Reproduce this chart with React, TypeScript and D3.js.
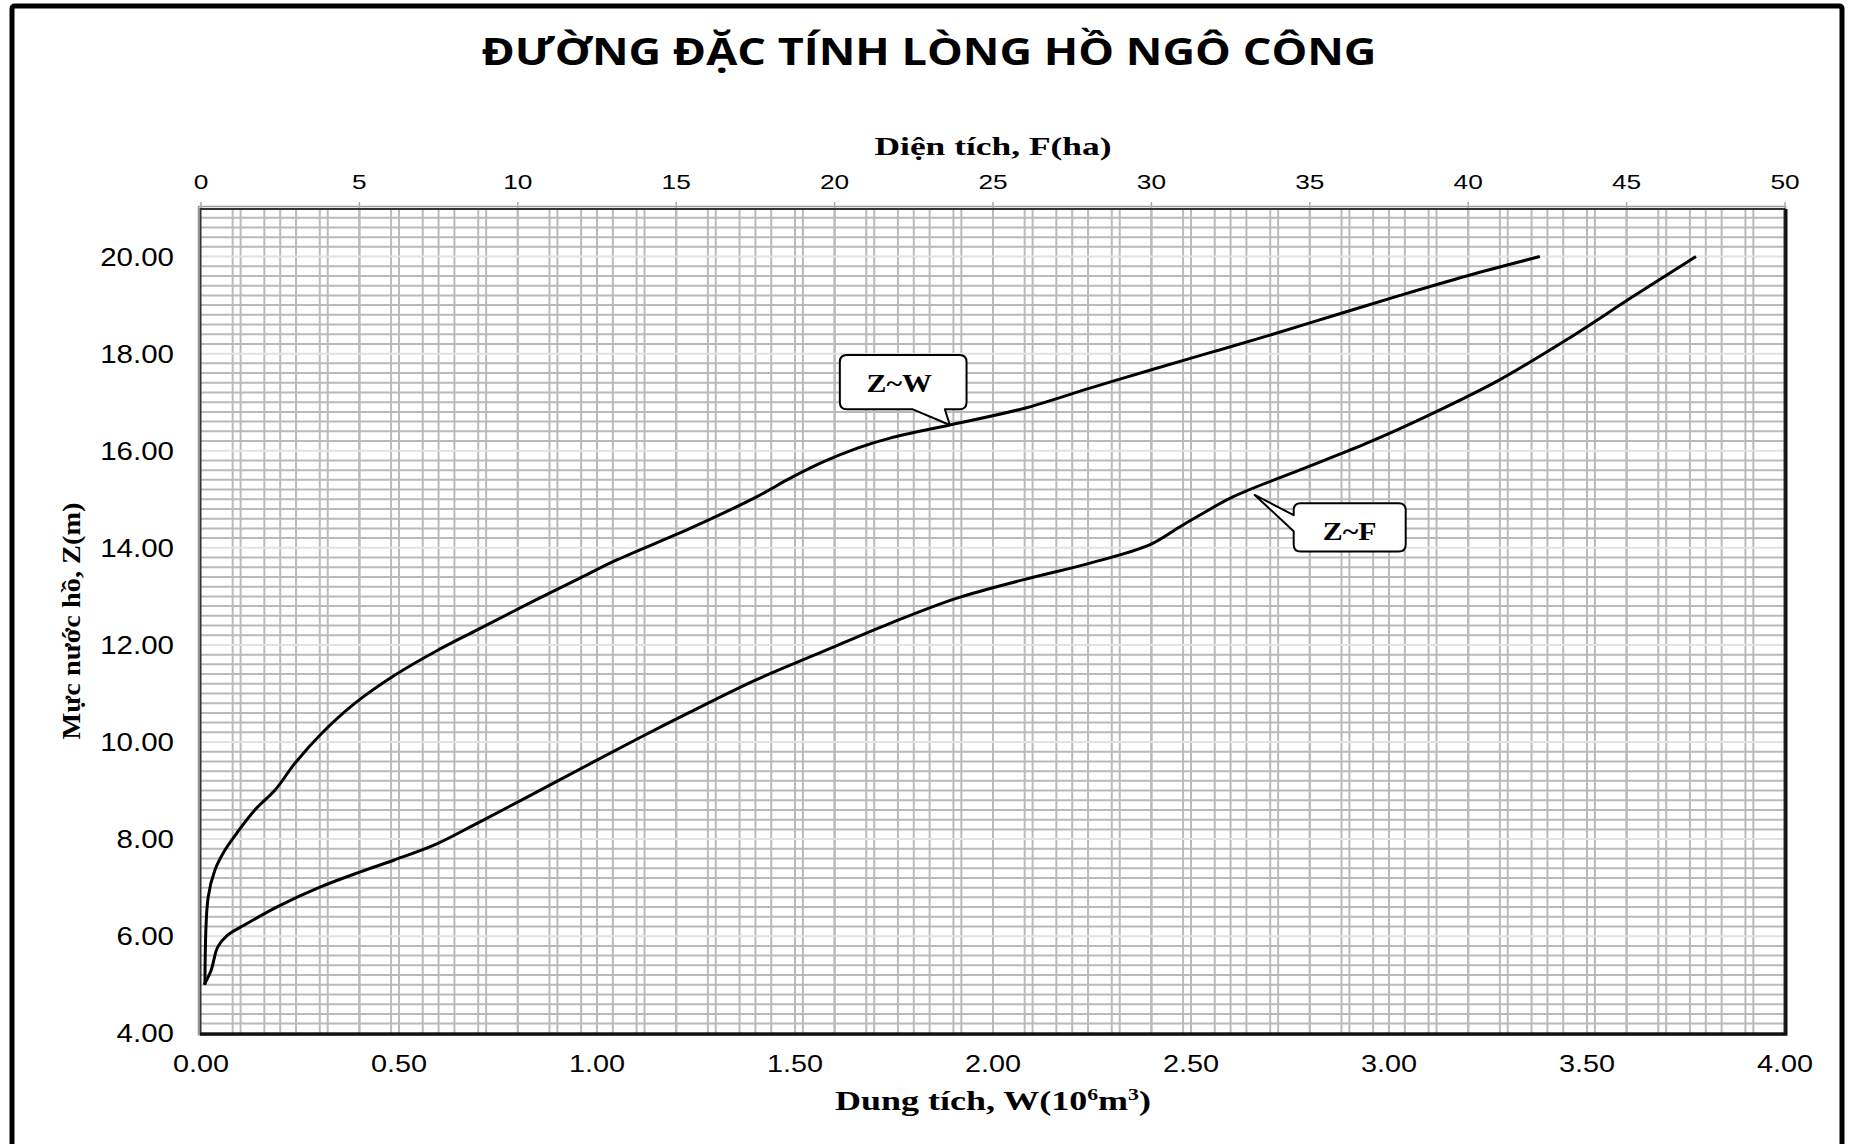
import React from "react";
import * as d3 from "d3";

// ---- data ----
// Z~W curve (capacity, 10^6 m3) vs water level Z (m)
const zwW = [0.01, 0.018, 0.035, 0.061, 0.09, 0.136, 0.187, 0.237, 0.305, 0.389, 0.49, 0.591, 0.70, 0.827, 0.953, 1.05, 1.235, 1.403, 1.487, 1.571, 1.656, 1.74, 1.891, 2.077, 2.245, 2.413, 2.548, 2.691, 2.859, 3.028, 3.196, 3.381];
const zwZ = [5.0, 6.8, 7.36, 7.78, 8.12, 8.6, 9.01, 9.56, 10.18, 10.8, 11.38, 11.86, 12.32, 12.85, 13.36, 13.75, 14.4, 15.05, 15.43, 15.77, 16.05, 16.26, 16.53, 16.87, 17.29, 17.70, 18.02, 18.36, 18.78, 19.2, 19.6, 20.0];
// Z~F curve (area, ha) vs water level Z (m)
const zfF = [0.1, 0.32, 0.53, 0.84, 1.37, 2.42, 3.79, 5.05, 6.1, 7.37, 8.73, 10.31, 12.42, 14.0, 15.42, 17.52, 19.62, 21.73, 23.84, 25.94, 28.04, 29.94, 30.89, 31.52, 32.57, 34.67, 36.78, 38.88, 40.99, 43.09, 45.19, 47.19];
const zfZ = [5.0, 5.3, 5.78, 6.02, 6.23, 6.61, 7.02, 7.33, 7.57, 7.88, 8.33, 8.87, 9.6, 10.14, 10.61, 11.28, 11.86, 12.44, 12.96, 13.34, 13.68, 14.06, 14.43, 14.67, 15.05, 15.6, 16.15, 16.77, 17.46, 18.28, 19.17, 20.0];

const yTicks = [4, 6, 8, 10, 12, 14, 16, 18, 20];
const wTicks = [0, 0.5, 1, 1.5, 2, 2.5, 3, 3.5, 4];
const fTicks = [0, 5, 10, 15, 20, 25, 30, 35, 40, 45, 50];

const title = "ĐƯỜNG ĐẶC TÍNH LÒNG HỒ NGÔ CÔNG";
const topTitle = "Diện tích, F(ha)";
const yTitle = "Mực nước hồ, Z(m)";

const labelZW = { text: "Z~W", w: 1.891, z: 16.53 };
const labelZF = { text: "Z~F", f: 33.26, z: 15.09 };

const W = 1854, H = 1144;
const L = 201, R = 1785, T = 208, B = 1033.3;

const xW = d3.scaleLinear().domain([0, 4]).range([L, R]);
const xF = d3.scaleLinear().domain([0, 50]).range([L, R]);
const y = d3.scaleLinear().domain([4, 21]).range([B, T]);

const SANS = "Arial, 'Liberation Sans', sans-serif";
const SERIF = "'Times New Roman', 'Liberation Serif', serif";

function SText({ x, y, sx = 1.2, anchor = "middle", size, family, weight = "normal", children }: any) {
  return (
    <g transform={`translate(${x},${y}) scale(${sx},1)`}>
      <text x={0} y={0} textAnchor={anchor} fontSize={size} fontFamily={family} fontWeight={weight} fill="#000">
        {children}
      </text>
    </g>
  );
}

export default function App() {
  const lineZW = d3.line<number>()
    .x((_, i) => xW(zwW[i]))
    .y((_, i) => y(zwZ[i]))
    .curve(d3.curveCatmullRom.alpha(0.5));
  const lineZF = d3.line<number>()
    .x((_, i) => xF(zfF[i]))
    .y((_, i) => y(zfZ[i]))
    .curve(d3.curveCatmullRom.alpha(0.5));

  const hMinor = d3.range(4.2, 20.95, 0.2).map((v) => +v.toFixed(1)).filter((v) => Math.abs(v / 2 - Math.round(v / 2)) > 1e-6);
  const hMajor = yTicks.filter((v) => v > 4);
  const vF = d3.range(1, 50, 1);
  const vW = d3.range(1, 40, 1).map((v) => v / 10);

  // callout Z~W
  const tw = { x: xW(labelZW.w), y: y(labelZW.z) };
  const r = 7;
  const a0 = tw.x - 110, a1 = tw.x + 16.7, b0 = tw.y - 70, b1 = tw.y - 15.7;
  const pathZW = `M${a0 + r},${b0} H${a1 - r} Q${a1},${b0} ${a1},${b0 + r} V${b1 - r} Q${a1},${b1} ${a1 - r},${b1} H${tw.x - 5} L${tw.x},${tw.y} L${tw.x - 37},${b1} H${a0 + r} Q${a0},${b1} ${a0},${b1 - r} V${b0 + r} Q${a0},${b0} ${a0 + r},${b0} Z`;
  // callout Z~F
  const tf = { x: xF(labelZF.f), y: y(labelZF.z) };
  const c0 = tf.x + 39, c1 = tf.x + 151, d0 = tf.y + 8.3, d1 = tf.y + 56.7;
  const pathZF = `M${c0 + r},${d0} H${c1 - r} Q${c1},${d0} ${c1},${d0 + r} V${d1 - r} Q${c1},${d1} ${c1 - r},${d1} H${c0 + r} Q${c0},${d1} ${c0},${d1 - r} V${d0 + 28} L${tf.x},${tf.y} L${c0},${d0 + 12} V${d0 + r} Q${c0},${d0} ${c0 + r},${d0} Z`;

  return (
    <svg width={W} height={H} style={{ position: "absolute", left: 0, top: 0, background: "#fff" }}>
      <rect x={0} y={0} width={W} height={H} fill="#fff" />
      {/* outer frame */}
      <path d={`M12,${H} V9 Q12,6 15,6 H1839 Q1842,6 1842,9 V${H}`} fill="none" stroke="#000" strokeWidth={5} />

      {/* title */}
      <text x={929} y={65} textAnchor="middle" fontSize={38} fontWeight="bold" fontFamily="'Open Sans', 'Noto Sans', sans-serif" textLength={895} lengthAdjust="spacingAndGlyphs">{title}</text>

      {/* gridlines */}
      <g>
        {hMinor.map((v) => (
          <line key={"h" + v} x1={L} x2={R} y1={y(v)} y2={y(v)} stroke="#bababa" strokeWidth={2} />
        ))}
        {vF.map((v) => (
          <line key={"vf" + v} x1={xF(v)} x2={xF(v)} y1={T} y2={B} stroke="#bababa" strokeWidth={2} />
        ))}
        {vW.map((v) => (
          <line key={"vw" + v} x1={xW(v)} x2={xW(v)} y1={T} y2={B} stroke="#bababa" strokeWidth={2} />
        ))}
        {hMajor.map((v) => (
          <line key={"hm" + v} x1={L} x2={R} y1={y(v)} y2={y(v)} stroke="#e2e2e2" strokeWidth={2} />
        ))}
      </g>

      {/* plot border */}
      <rect x={L - 2.5} y={T - 1.5} width={R - L + 3} height={B - T + 3} fill="none" stroke="#999" strokeWidth={1.5} />
      <rect x={L - 0.5} y={T + 1} width={R - L} height={B - T - 1} fill="none" stroke="#333" strokeWidth={2} />
      <path d={`M${R + 1},${T + 1} V${B + 1} H${L - 1}`} fill="none" stroke="#111" strokeWidth={3} />

      {/* top axis ticks */}
      {fTicks.map((v) => (
        <line key={"ft" + v} x1={xF(v)} x2={xF(v)} y1={202} y2={208} stroke="#aaa" strokeWidth={1.5} />
      ))}

      {/* curves */}
      <path d={lineZW(zwW) || ""} fill="none" stroke="#000" strokeWidth={3} strokeLinejoin="round" />
      <path d={lineZF(zfF) || ""} fill="none" stroke="#000" strokeWidth={3} strokeLinejoin="round" />

      {/* callouts */}
      <path d={pathZW} fill="#fff" stroke="#000" strokeWidth={2} strokeLinejoin="round" />
      <SText x={(a0 + a1) / 2 - 4} y={(b0 + b1) / 2 + 9.5} sx={1.15} size={26} family={SERIF} weight="bold">{labelZW.text}</SText>
      <path d={pathZF} fill="#fff" stroke="#000" strokeWidth={2} strokeLinejoin="round" />
      <SText x={(c0 + c1) / 2} y={(d0 + d1) / 2 + 12.5} sx={1.15} size={26} family={SERIF} weight="bold">{labelZF.text}</SText>

      {/* y tick labels */}
      {yTicks.map((v) => (
        <SText key={"yl" + v} x={174} y={y(v) + 9} sx={1.18} anchor="end" size={25} family={SANS}>{v.toFixed(2)}</SText>
      ))}
      {/* bottom tick labels */}
      {wTicks.map((v) => (
        <SText key={"wl" + v} x={xW(v)} y={1072} sx={1.2} size={24} family={SANS}>{v.toFixed(2)}</SText>
      ))}
      {/* top tick labels */}
      {fTicks.map((v) => (
        <SText key={"fl" + v} x={xF(v)} y={188.5} sx={1.25} size={21} family={SANS}>{String(v)}</SText>
      ))}

      {/* axis titles */}
      <text x={(L + R) / 2} y={155} textAnchor="middle" fontSize={25} fontWeight="bold" fontFamily={SERIF} textLength={237} lengthAdjust="spacingAndGlyphs">{topTitle}</text>
      <text x={(L + R) / 2} y={1110} textAnchor="middle" fontSize={28} fontWeight="bold" fontFamily={SERIF} textLength={316} lengthAdjust="spacingAndGlyphs">
        Dung tích, W(10<tspan dy={-10} fontSize={17}>6</tspan><tspan dy={10}>m</tspan><tspan dy={-10} fontSize={17}>3</tspan><tspan dy={10}>)</tspan>
      </text>
      <text transform={`translate(80,621) rotate(-90)`} x={0} y={0} textAnchor="middle" fontSize={26} fontWeight="bold" fontFamily={SERIF} textLength={237} lengthAdjust="spacingAndGlyphs">{yTitle}</text>
    </svg>
  );
}
